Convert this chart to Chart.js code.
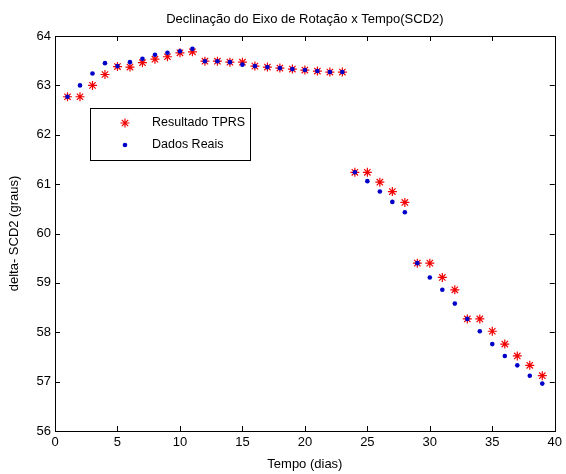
<!DOCTYPE html>
<html>
<head>
<meta charset="utf-8">
<script src="https://cdn.jsdelivr.net/npm/chart.js@4"></script>
<style>
html,body{margin:0;padding:0;background:#fff;}
#c{display:block;}
</style>
</head>
<body>
<canvas id="c" width="566" height="474"></canvas>
<script>
const days = [1,2,3,4,5,6,7,8,9,10,11,12,13,14,15,16,17,18,19,20,21,22,23,24,25,26,27,28,29,30,31,32,33,34,35,36,37,38,39];
const tprs = [62.77,62.77,63.00,63.22,63.38,63.37,63.46,63.53,63.58,63.66,63.68,63.49,63.49,63.47,63.47,63.39,63.37,63.35,63.33,63.31,63.29,63.27,63.27,61.24,61.24,61.04,60.85,60.63,59.40,59.40,59.11,58.86,58.27,58.27,58.02,57.76,57.52,57.33,57.12];
const reais = [62.77,63.00,63.24,63.45,63.39,63.47,63.54,63.62,63.66,63.69,63.74,63.49,63.49,63.47,63.42,63.39,63.37,63.35,63.33,63.31,63.29,63.27,63.27,61.24,61.06,60.85,60.64,60.43,59.40,59.11,58.86,58.58,58.27,58.02,57.76,57.52,57.33,57.12,56.96];
const xTicks = [0,5,10,15,20,25,30,35,40];
const yTicks = [56,57,58,59,60,61,62,63,64];
const titleText = 'Declinação do Eixo de Rotação x Tempo(SCD2)';
const xTitle = 'Tempo (dias)';
const yTitle = 'delta- SCD2 (graus)';
const seriesNames = ['Resultado TPRS','Dados Reais'];

const FONT = '"Liberation Sans", Arial, sans-serif';
const FS = 13;

const toXY = (xs, ys) => xs.map((x, i) => ({x: x, y: ys[i]}));

const deco = {
  id: 'deco',
  afterDraw(chart) {
    const ctx = chart.ctx;
    const a = chart.chartArea;
    const xs = chart.scales.x, ys = chart.scales.y;
    ctx.save();
    ctx.strokeStyle = '#000';
    ctx.lineWidth = 1;
    ctx.strokeRect(Math.round(a.left) + 0.5, Math.round(a.top) + 0.5, Math.round(a.right - a.left), Math.round(a.bottom - a.top));
    const TL = 5;
    ctx.beginPath();
    xTicks.forEach(v => {
      const px = Math.round(xs.getPixelForValue(v)) + 0.5;
      ctx.moveTo(px, a.bottom); ctx.lineTo(px, a.bottom - TL);
      ctx.moveTo(px, a.top); ctx.lineTo(px, a.top + TL);
    });
    yTicks.forEach(v => {
      const py = Math.round(ys.getPixelForValue(v)) + 0.5;
      ctx.moveTo(a.left, py); ctx.lineTo(a.left + TL, py);
      ctx.moveTo(a.right, py); ctx.lineTo(a.right - TL, py);
    });
    ctx.stroke();
    ctx.fillStyle = '#000';
    ctx.font = FS + 'px ' + FONT;
    ctx.textAlign = 'center';
    ctx.textBaseline = 'middle';
    ctx.fillText(titleText, (a.left + a.right) / 2, 19);
    ctx.fillText(xTitle, (a.left + a.right) / 2, 464);
    ctx.save();
    ctx.translate(14, (a.top + a.bottom) / 2);
    ctx.rotate(-Math.PI / 2);
    ctx.fillText(yTitle, 0, 0);
    ctx.restore();
    // legend
    const lx = 90, ly = 108, lw = 160, lh = 52;
    ctx.fillStyle = '#fff';
    ctx.fillRect(lx, ly, lw, lh);
    ctx.strokeRect(lx + 0.5, ly + 0.5, lw, lh);
    const rows = [123, 145];
    const ds = chart.data.datasets;
    rows.forEach((ry, i) => {
      const d = ds[i];
      ctx.fillStyle = d.backgroundColor;
      ctx.strokeStyle = d.borderColor;
      ctx.lineWidth = d.borderWidth;
      Chart.helpers.drawPoint(ctx, {
        pointStyle: d.pointStyle, radius: d.pointRadius, borderWidth: d.borderWidth, rotation: 0
      }, 125, ry);
    });
    ctx.font = '12.5px ' + FONT;
    ctx.fillStyle = '#000';
    ctx.textAlign = 'left';
    ctx.textBaseline = 'middle';
    rows.forEach((ry, i) => ctx.fillText(seriesNames[i], 152, ry));
    ctx.restore();
  }
};

new Chart(document.getElementById('c'), {
  type: 'scatter',
  data: {
    datasets: [
      {
        label: seriesNames[0],
        data: toXY(days, tprs),
        pointStyle: 'star',
        pointRadius: 4.5,
        borderWidth: 1.2,
        borderColor: '#f00000',
        backgroundColor: '#f00000',
        order: 1
      },
      {
        label: seriesNames[1],
        data: toXY(days, reais),
        pointStyle: 'circle',
        pointRadius: 2.3,
        borderWidth: 0,
        borderColor: '#0000c8',
        backgroundColor: '#0000c8',
        order: 0
      }
    ]
  },
  options: {
    responsive: false,
    animation: false,
    layout: {padding: {top: 36, right: 7, left: 0, bottom: 0}},
    plugins: {legend: {display: false}, tooltip: {enabled: false}, title: {display: false}},
    scales: {
      x: {
        type: 'linear', min: 0, max: 40,
        afterBuildTicks: s => { s.ticks = xTicks.map(v => ({value: v})); },
        afterFit: s => { s.height = 43; },
        grid: {display: false, drawTicks: false},
        border: {display: false},
        ticks: {color: '#000', padding: 4, font: {family: FONT, size: FS}, maxRotation: 0, autoSkip: false}
      },
      y: {
        type: 'linear', min: 56, max: 64,
        afterBuildTicks: s => { s.ticks = yTicks.map(v => ({value: v})); },
        afterFit: s => { s.width = 55; },
        grid: {display: false, drawTicks: false},
        border: {display: false},
        ticks: {color: '#000', padding: 4, font: {family: FONT, size: FS}, autoSkip: false}
      }
    }
  },
  plugins: [deco]
});
</script>
</body>
</html>
